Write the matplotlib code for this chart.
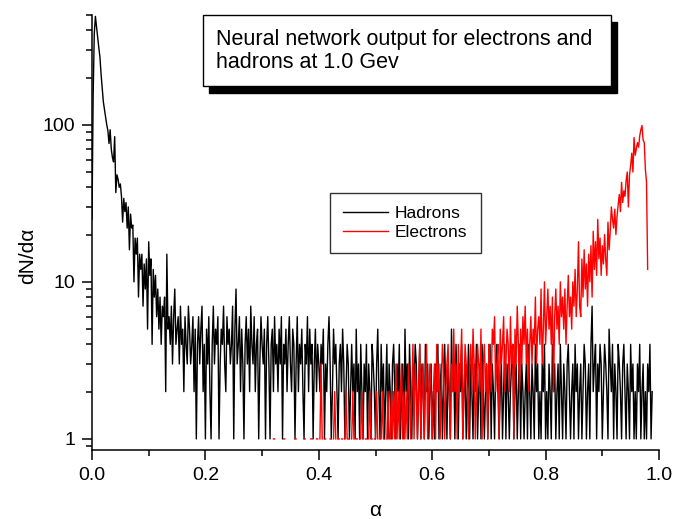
import numpy as np
import matplotlib.pyplot as plt
from matplotlib.patches import Rectangle
from matplotlib.ticker import LogLocator, NullFormatter, MultipleLocator

plt.rcParams['font.family'] = ['Liberation Sans', 'DejaVu Sans']

bin_width = 0.002

# hadrons, counts per bin starting at alpha = 0
hadrons_head = [25, 150, 380, 490, 420, 360, 310, 270, 210, 170,
                140, 125, 112, 100, 92, 76, 93, 70, 62, 58,
                84, 37, 48, 45, 40, 42, 35, 24, 34, 28,
                32, 22, 30, 16, 27, 22, 23, 10, 19, 15,
                19, 8, 15, 12, 15, 7, 13, 9, 14, 5,
                18, 11, 14, 4, 12, 8, 11, 6, 9, 5,
                8, 4, 7, 6, 8, 2, 15, 5, 6, 4,
                7, 3, 6, 9, 4, 5]
hadrons_mid = [6, 3, 7, 4, 5, 2, 6, 4, 3, 7,
               5, 3, 4, 6, 2, 5, 1, 4, 6, 3,
               5, 7, 2, 4, 1,
               5, 3, 6, 2, 1, 4, 7, 3, 5, 4,
               6, 1, 3, 5, 4, 7, 3, 2, 6, 4,
               5, 3, 4, 7, 1, 5, 9, 3, 4, 6,
               2, 5, 3, 1, 4, 6, 3, 5, 2, 7,
               4, 3, 6, 2, 4, 5, 1, 3, 6, 4,
               3, 5, 1, 4, 6, 3, 1, 4, 5, 2,
               6, 3, 4, 2, 5, 3, 6, 1, 4, 3,
               5, 2, 4, 6, 3, 2, 5, 4, 1, 3,
               6, 2, 4, 3, 5, 2, 1, 4, 3, 6,
               2, 5, 3, 4, 1, 3, 5, 2, 4, 3,
               2, 4, 3, 5, 1, 3, 2, 4, 6, 3,
               1, 2, 5, 3, 4, 2, 1, 3, 4, 2,
               5, 3, 1, 2, 4]
hadrons_tail = [3, 1, 2, 4, 2, 3, 1, 5, 2, 3,
                1, 4, 2, 1, 3, 2, 4, 1, 3, 2,
                1, 4, 3, 2, 1, 3, 5, 2, 1, 4,
                2, 3, 1, 2, 4, 1, 3, 2, 1, 3,
                4, 2, 1, 3, 2, 4, 1, 2, 3, 1,
                5, 2, 3, 1, 4, 2, 1, 3, 2, 4,
                3, 1, 2, 4, 1, 3, 2, 1, 4, 2,
                3, 1, 2, 3, 1,
                2, 1, 3, 2, 4, 1, 2, 3, 1, 2,
                4, 2, 1, 3, 2, 1, 5, 2, 3, 1,
                4, 2, 1, 3, 2, 4, 1, 2, 3, 1,
                2, 4, 1, 3, 2, 1, 3, 2, 4, 1,
                2, 3, 1, 4, 2, 1, 2, 3, 1, 2,
                4, 1, 3, 2, 1, 3, 4, 2, 1, 2,
                3, 1, 2, 4, 1, 3, 2, 1, 2, 3,
                4, 1, 2, 3, 1, 2, 4, 1, 3, 2,
                1, 2, 3, 1, 4, 2, 1, 3, 2, 1,
                4, 2, 3, 1, 2, 1, 3, 2, 4, 1,
                2, 1, 3, 2, 1, 4, 2, 3, 1, 2,
                3, 1, 4, 2, 1, 3, 2, 1, 3, 4,
                2, 1, 2, 3, 1, 4, 2, 3, 1, 2,
                3, 1, 2, 4, 3, 1, 2, 3, 1, 4,
                7, 2, 3, 4, 1, 3, 2, 4, 3, 1,
                2, 4, 3, 2, 1, 5, 3, 2, 4, 1,
                3, 2, 1, 4, 3, 2, 1, 3, 4, 2,
                1, 3, 2, 1, 4, 2, 3, 1, 2, 1,
                3, 2, 4, 1, 2, 3, 1, 2, 1, 3,
                2, 4, 1, 2]

# electrons, counts per bin starting at alpha = 0.300 (0 = empty bin)
electrons_start = 0.300
electrons_low = [1, 0, 0, 1, 0, 1, 0, 0, 1, 0,
                 1, 1, 0, 0, 1, 0, 1, 0, 0, 1,
                 1, 0, 1, 0, 0, 1, 0, 1, 0, 1,
                 1, 0, 0, 1, 0, 1, 0, 1, 1, 0,
                 1, 0, 0, 1, 1, 0, 1, 0, 1, 1,
                 0, 1, 3, 1, 0, 1, 1, 0, 1, 0,
                 1, 1, 0, 1, 2, 1, 0, 1, 1, 0,
                 1, 1, 0, 1, 2, 1,
                 1, 1, 0, 1, 2, 1, 0, 1, 1, 0,
                 1, 1, 2, 1, 0, 1, 1, 0, 1, 2,
                 1, 1, 0, 1, 1, 2, 1, 0, 1, 1,
                 2, 1, 1, 0, 1, 2, 1, 1, 2, 1,
                 2, 1, 3, 1, 2, 1, 2, 3, 1, 2,
                 1, 2, 1, 3, 2, 1, 2, 4, 1, 3,
                 2, 1, 2, 4, 1, 2, 3, 1, 2, 4,
                 1, 2, 3, 2, 1]
electrons_mid = [2, 3, 1, 4, 2, 3, 1, 2, 4, 3,
                 1, 2, 3, 4, 2, 1, 3, 2, 5, 2,
                 3, 1, 4, 2, 3, 5, 1, 2, 4, 3,
                 2, 1, 3, 4, 2, 5, 3, 1, 2, 4,
                 3, 2, 5, 1, 3, 4, 2, 3, 1, 4,
                 3, 2, 5, 4, 6, 2, 3, 4, 1, 5,
                 3, 4, 6, 2, 3, 5, 4, 2, 6, 3,
                 4, 1, 5, 3, 7, 4, 2, 5, 3, 6,
                 4, 7, 3, 5, 2, 4, 6, 3, 5, 4,
                 8, 3, 5, 6, 4, 9, 3, 5, 10, 4]
electrons_high = [6, 9, 5, 7, 4, 8, 2, 6, 9, 5,
                  7, 4, 10, 6, 8, 5, 9, 4, 7, 11,
                  6, 8, 5, 10, 7, 12, 6, 9, 18, 7,
                  6, 14, 8, 16, 9, 13, 7, 15, 10, 17,
                  8, 21, 12, 18, 11, 25, 14, 19, 11, 17,
                  13, 20, 14, 11, 24, 16, 21, 30, 25, 22,
                  29, 20, 26, 31, 36, 28, 43, 32, 38, 35,
                  44, 50, 30, 48, 55, 66, 50, 83, 64, 70,
                  77, 72, 85, 93, 99, 80, 77, 52, 43, 12]

hadrons = np.array(hadrons_head + hadrons_mid + hadrons_tail, dtype=float)
x_had = np.arange(len(hadrons)) * bin_width
electrons = np.array(electrons_low + electrons_mid + electrons_high, dtype=float)
x_el = electrons_start + np.arange(len(electrons)) * bin_width
electrons[electrons == 0] = np.nan  # empty bins leave a gap on the log axis

W, H = 673, 519
fig = plt.figure(figsize=(W / 100, H / 100), dpi=100)
ax = fig.add_axes([92 / W, 1 - 450 / H, 567 / W, 435 / H])

ax.plot(x_had, hadrons, color="black", lw=1.0, label="Hadrons")
ax.plot(x_el, electrons, color="red", lw=1.0, label="Electrons")

ax.set_yscale("log")
ax.set_xlim(0, 1.0)
ax.set_ylim(0.85, 500)
ax.spines["top"].set_visible(False)
ax.spines["right"].set_visible(False)
for s in ("left", "bottom"):
    ax.spines[s].set_linewidth(1.1)

ax.set_xticks([0, 0.2, 0.4, 0.6, 0.8, 1.0])
ax.set_xticklabels(["0.0", "0.2", "0.4", "0.6", "0.8", "1.0"])
ax.xaxis.set_minor_locator(MultipleLocator(0.1))
ax.set_yticks([1, 10, 100])
ax.set_yticklabels(["1", "10", "100"])
ax.yaxis.set_minor_locator(LogLocator(base=10, subs=np.arange(2, 10)))
ax.yaxis.set_minor_formatter(NullFormatter())
ax.tick_params(which="major", direction="out", length=7, width=1.1, labelsize=14, pad=5)
ax.tick_params(which="minor", direction="out", length=4, width=1.1)

ax.set_xlabel("α", fontsize=15, va="center")
ax.xaxis.set_label_coords(0.5, -0.138)
ax.set_ylabel("dN/dα", fontsize=15, va="center")
ax.yaxis.set_label_coords(-0.113, 0.446)

leg = ax.legend(loc="upper left", bbox_to_anchor=(330 / W, 1 - 193 / H),
                bbox_transform=fig.transFigure, fontsize=12.5, frameon=True,
                fancybox=False, edgecolor="#333333", framealpha=1,
                borderpad=0.75, labelspacing=0.2, handlelength=2.6,
                handletextpad=0.4, borderaxespad=0)
leg.get_frame().set_linewidth(1.0)
for line in leg.get_lines():
    line.set_linewidth(1.0)

# title box with drop shadow
fig.add_artist(Rectangle((209 / W, 1 - 93 / H), 408 / W, 71 / H,
                         transform=fig.transFigure, facecolor="black", edgecolor="black"))
fig.add_artist(Rectangle((203 / W, 1 - 86 / H), 408 / W, 71 / H,
                         transform=fig.transFigure, facecolor="white", edgecolor="black", lw=1))
fig.text(216 / W, 1 - 45 / H, "Neural network output for electrons and", fontsize=15.5, va="baseline")
fig.text(216 / W, 1 - 68 / H, "hadrons at 1.0 Gev", fontsize=15.5, va="baseline")

fig.savefig("out.png", dpi=100)
